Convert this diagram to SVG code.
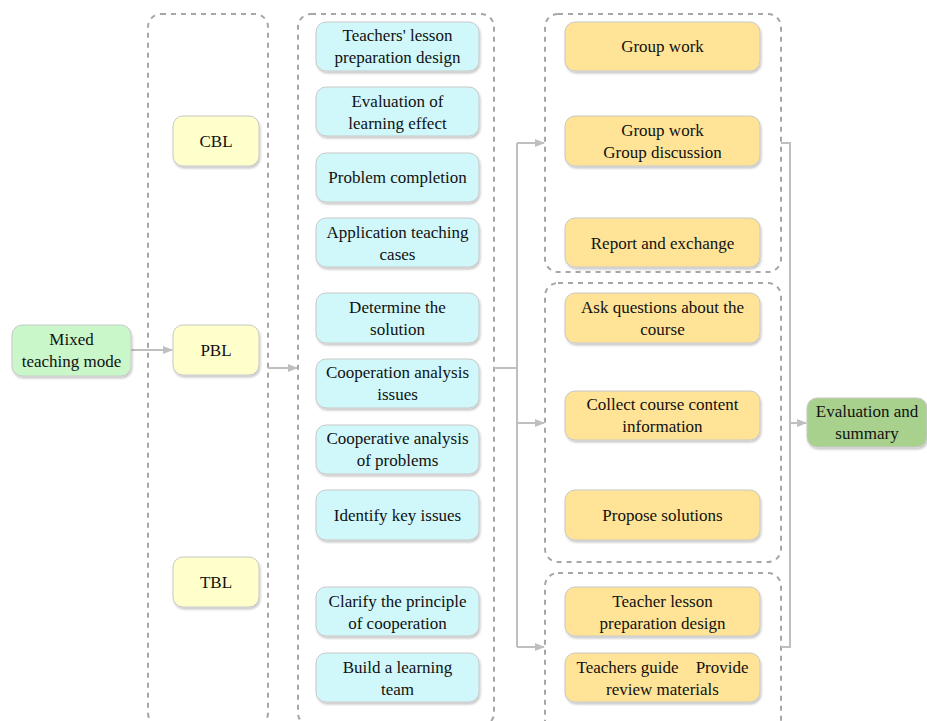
<svg xmlns="http://www.w3.org/2000/svg" width="927" height="721" viewBox="0 0 927 721">
<defs>
<style>
.cont{fill:none;stroke:#a6a6a6;stroke-width:2;stroke-dasharray:5 5}
.box{stroke:#c8c8c8;stroke-width:1;filter:url(#sh)}
.g{fill:#c9f7c9}.y{fill:#ffffcc}.c{fill:#d0f8fa}.o{fill:#ffe497}.s{fill:#a8d18d}
.t text{font-size:17px;fill:#111;text-anchor:middle}
.con{fill:none;stroke:#bfbfbf;stroke-width:2}
</style>
<filter id="sh" x="-10%" y="-10%" width="125%" height="135%">
<feDropShadow dx="1" dy="2" stdDeviation="1.2" flood-color="#000" flood-opacity="0.22"/>
</filter>
<marker id="ar" markerWidth="10" markerHeight="10" refX="9" refY="5" orient="auto" markerUnits="userSpaceOnUse">
<path d="M0,1 L10,5 L0,9 Z" fill="#bfbfbf"/>
</marker>
</defs>
<g id="containers">
<rect class="cont" x="148" y="14" width="120" height="712" rx="13"/>
<rect class="cont" x="298" y="14" width="196" height="712" rx="13"/>
<rect class="cont" x="545" y="14" width="236" height="258" rx="13"/>
<rect class="cont" x="545" y="283" width="236" height="279" rx="13"/>
<rect class="cont" x="545" y="573" width="236" height="160" rx="13"/>
</g>
<g id="connectors">
<path class="con" d="M131,350 H172" marker-end="url(#ar)"/>
<path class="con" d="M268,368 H297" marker-end="url(#ar)"/>
<path class="con" d="M494,368 H517"/>
<path class="con" d="M517,143 V647"/>
<path class="con" d="M517,143 H544" marker-end="url(#ar)"/>
<path class="con" d="M517,423 H544" marker-end="url(#ar)"/>
<path class="con" d="M517,647 H544" marker-end="url(#ar)"/>
<path class="con" d="M781,143 H790 V647 H781"/>
<path class="con" d="M790,423 H806" marker-end="url(#ar)"/>
</g>
<g class="t" font-family="'Liberation Serif', 'Times New Roman', 'DejaVu Serif', serif">
<g id="n-mixed"><rect class="box g" x="12" y="325" width="119" height="51" rx="10"/><text x="71.5" y="345">Mixed</text><text x="71.5" y="367">teaching mode</text></g>
<g id="n-cbl"><rect class="box y" x="173" y="116" width="86" height="50" rx="10"/><text x="216" y="147">CBL</text></g>
<g id="n-pbl"><rect class="box y" x="173" y="325" width="86" height="50" rx="10"/><text x="216" y="356">PBL</text></g>
<g id="n-tbl"><rect class="box y" x="173" y="557" width="86" height="50" rx="10"/><text x="216" y="588">TBL</text></g>
<g id="c1"><rect class="box c" x="316" y="22" width="163" height="49" rx="10"/><text x="397.5" y="41">Teachers' lesson</text><text x="397.5" y="63">preparation design</text></g>
<g id="c2"><rect class="box c" x="316" y="87" width="163" height="49" rx="10"/><text x="397.5" y="107">Evaluation of</text><text x="397.5" y="129">learning effect</text></g>
<g id="c3"><rect class="box c" x="316" y="153" width="163" height="49" rx="10"/><text x="397.5" y="183">Problem completion</text></g>
<g id="c4"><rect class="box c" x="316" y="218" width="163" height="49" rx="10"/><text x="397.5" y="238">Application teaching</text><text x="397.5" y="260">cases</text></g>
<g id="c5"><rect class="box c" x="316" y="293" width="163" height="50" rx="10"/><text x="397.5" y="313">Determine the</text><text x="397.5" y="335">solution</text></g>
<g id="c6"><rect class="box c" x="316" y="359" width="163" height="49" rx="10"/><text x="397.5" y="378">Cooperation analysis</text><text x="397.5" y="400">issues</text></g>
<g id="c7"><rect class="box c" x="316" y="425" width="163" height="49" rx="10"/><text x="397.5" y="444">Cooperative analysis</text><text x="397.5" y="466">of problems</text></g>
<g id="c8"><rect class="box c" x="316" y="490" width="163" height="50" rx="10"/><text x="397.5" y="521">Identify key issues</text></g>
<g id="c9"><rect class="box c" x="316" y="587" width="163" height="49" rx="10"/><text x="397.5" y="607">Clarify the principle</text><text x="397.5" y="629">of cooperation</text></g>
<g id="c10"><rect class="box c" x="316" y="653" width="163" height="49" rx="10"/><text x="397.5" y="673">Build a learning</text><text x="397.5" y="695">team</text></g>
<g id="o1"><rect class="box o" x="565" y="22" width="195" height="49" rx="10"/><text x="662.5" y="52">Group work</text></g>
<g id="o2"><rect class="box o" x="565" y="116" width="195" height="50" rx="10"/><text x="662.5" y="136">Group work</text><text x="662.5" y="158">Group discussion</text></g>
<g id="o3"><rect class="box o" x="565" y="218" width="195" height="49" rx="10"/><text x="662.5" y="249">Report and exchange</text></g>
<g id="o4"><rect class="box o" x="565" y="293" width="195" height="50" rx="10"/><text x="662.5" y="313">Ask questions about the</text><text x="662.5" y="335">course</text></g>
<g id="o5"><rect class="box o" x="565" y="391" width="195" height="49" rx="10"/><text x="662.5" y="410">Collect course content</text><text x="662.5" y="432">information</text></g>
<g id="o6"><rect class="box o" x="565" y="490" width="195" height="50" rx="10"/><text x="662.5" y="521">Propose solutions</text></g>
<g id="o7"><rect class="box o" x="565" y="587" width="195" height="49" rx="10"/><text x="662.5" y="607">Teacher lesson</text><text x="662.5" y="629">preparation design</text></g>
<g id="o8"><rect class="box o" x="565" y="653" width="195" height="49" rx="10"/><text x="662.5" y="673" xml:space="preserve">Teachers guide    Provide</text><text x="662.5" y="695">review materials</text></g>
<g id="n-eval"><rect class="box s" x="807" y="398" width="120" height="49" rx="10"/><text x="867" y="417">Evaluation and</text><text x="867" y="439">summary</text></g>
</g>
</svg>
